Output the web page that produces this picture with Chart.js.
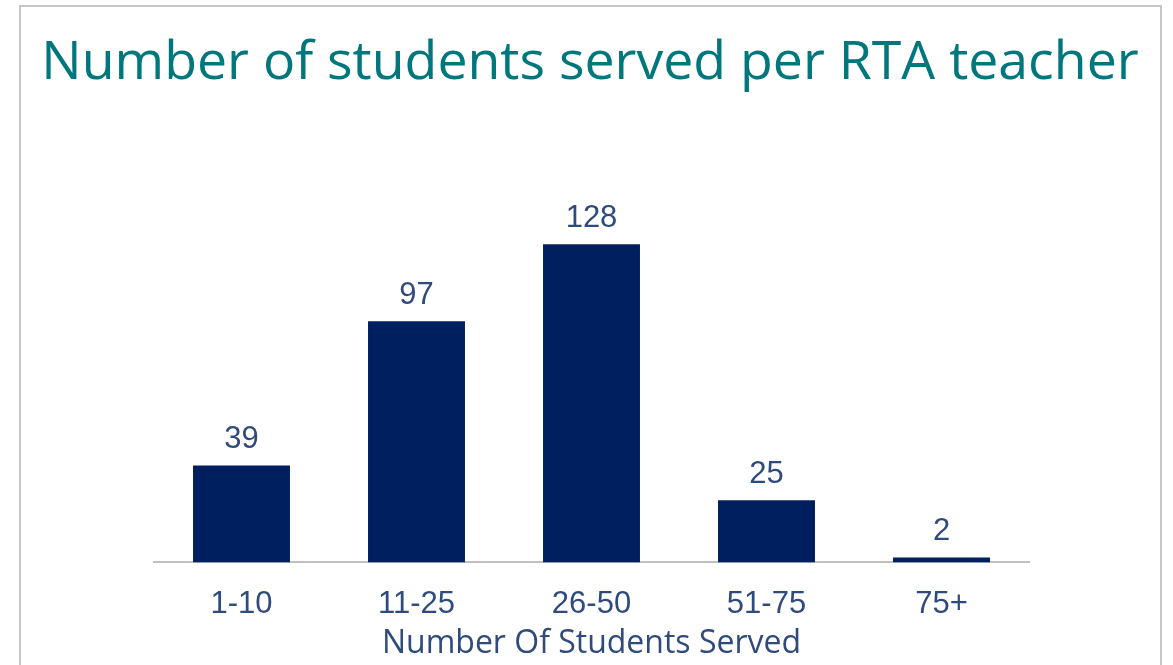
<!DOCTYPE html>
<html>
<head>
<meta charset="utf-8">
<script src="https://cdn.jsdelivr.net/npm/chart.js@4"></script>
<style>
  html, body { margin: 0; padding: 0; background: #fff; overflow: hidden; }
  #frame { position: absolute; left: 19px; top: 5px; width: 1139px; height: 700px; border: 2px solid #c6c6c6; }
  #wrap { position: absolute; left: 0; top: 0; width: 1173px; height: 665px; }
</style>
</head>
<body>
<div id="frame"></div>
<div id="wrap"><canvas id="chart"></canvas></div>
<script>
const categories = ['1-10', '11-25', '26-50', '51-75', '75+'];
const studentCounts = [39, 97, 128, 25, 2];

const titleText = 'Number of students served per RTA teacher';
const axisTitle = 'Number Of Students Served';

const labelColor = '#2f4a7d';
const arial = '"Liberation Sans", Arial, sans-serif';

// draws the value above every bar
const valueLabels = {
    id: 'valueLabels',
    afterDatasetsDraw(chart) {
        const ctx = chart.ctx;
        const meta = chart.getDatasetMeta(0);
        ctx.save();
        ctx.font = '31px ' + arial;
        ctx.fillStyle = labelColor;
        ctx.textAlign = 'center';
        ctx.textBaseline = 'alphabetic';
        meta.data.forEach((bar, i) => {
            ctx.fillText(studentCounts[i], bar.x, bar.y - 17);
        });
        ctx.restore();
    }
};

// big title, drawn without the width limit of the built-in title
const bigTitle = {
    id: 'bigTitle',
    afterDraw(chart) {
        const ctx = chart.ctx;
        ctx.save();
        ctx.font = '53.6px "Open Sans"';
        ctx.fillStyle = '#00777d';
        ctx.textAlign = 'center';
        ctx.textBaseline = 'alphabetic';
        ctx.fillText(titleText, 590, 79);
        ctx.restore();
    }
};

new Chart(document.getElementById('chart'), {
    type: 'bar',
    data: {
        labels: categories,
        datasets: [{
            data: studentCounts,
            backgroundColor: '#001f5f',
            barPercentage: 0.554,
            categoryPercentage: 1
        }]
    },
    options: {
        responsive: true,
        maintainAspectRatio: false,
        animation: false,
        layout: { padding: { left: 154, right: 144, top: 90, bottom: 2 } },
        plugins: {
            legend: { display: false },
            tooltip: { enabled: false },
            title: { display: false }
        },
        scales: {
            x: {
                grid: { display: false, drawTicks: false },
                border: { display: true, color: '#c0c0c0', width: 2 },
                ticks: {
                    color: labelColor,
                    padding: 23,
                    font: { family: arial, size: 31 }
                },
                title: {
                    display: true,
                    text: axisTitle,
                    color: labelColor,
                    padding: { top: -21, bottom: 0 },
                    font: { family: '"Open Sans"', size: 32 }
                }
            },
            y: {
                display: false,
                min: 0,
                max: 190
            }
        }
    },
    plugins: [valueLabels, bigTitle]
});
</script>
</body>
</html>
